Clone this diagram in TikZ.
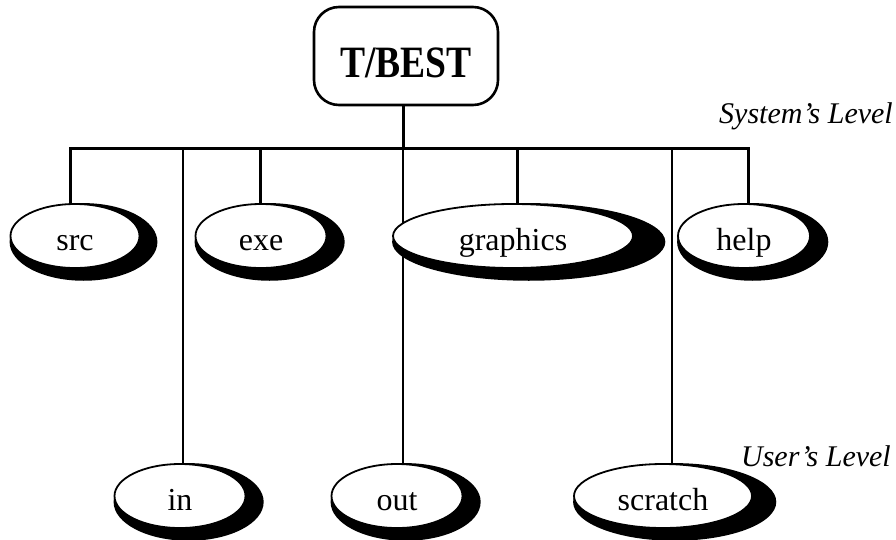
\documentclass[tikz,border=0pt]{standalone}
\usepackage{fontspec}
\setmainfont{Liberation Serif}
\usetikzlibrary{shapes.geometric,calc,backgrounds}
% solid black crescent shadow behind an elliptic node
\newcommand\ellshadow[1]{%
  \fill[black] let \p1=(#1.east), \p2=(#1.north), \p3=(#1.center),
    \n1={\x1-\x3}, \n2={\y2-\y3} in
    (\x3+0.13*\n1, \y3-0.18*\n2) ellipse [x radius=1.13*\n1, y radius=1.18*\n2];}
\begin{document}
\begin{tikzpicture}[x=1pt,y=-1pt,
  rootbox/.style={draw=black, line width=2.6pt, rounded corners=25pt,
    minimum width=184pt, minimum height=98pt, inner sep=0pt,
    text height=44pt, text depth=2pt,
    font=\bfseries\fontsize{40}{48}\selectfont},
  dirnode/.style={ellipse, draw=black, line width=1.8pt, fill=white,
    minimum width=#1, minimum height=64pt, inner sep=0pt,
    text height=34pt, text depth=6pt,
    font=\fontsize{32}{38}\selectfont},
  levellabel/.style={anchor=base east, inner sep=0pt,
    font=\itshape\fontsize{30}{36}\selectfont},
  trunkline/.style={line width=3pt},
  stubline/.style={line width=3pt},
  thinline/.style={line width=1.3pt}]
\useasboundingbox (0,0) rectangle (896,539);

% root of the tree
\node[rootbox] (root) at (406,56) {\scalebox{0.94}[1.12]{T/BEST}};

% system-level directories
\node[dirnode=129pt] (src) at (75,236) {src};
\node[dirnode=131pt] (exe) at (261,236) {exe};
\node[dirnode=240pt] (gfx) at (513,236) {graphics};
\node[dirnode=132pt] (help) at (744,236) {help};

% user-level directories
\node[dirnode=131pt] (in) at (180,496) {in};
\node[dirnode=131pt] (out) at (397,496) {out};
\node[dirnode=178pt] (scratch) at (663,496) {scratch};

% level captions
\node[levellabel] (syslbl) at (893,123) {System’s Level};
\node[levellabel] (usrlbl) at (891,466) {User’s Level};

% junctions on the horizontal bar
\coordinate (jsrc) at (70,148);
\coordinate (jin) at (183,148);
\coordinate (jexe) at (260,148);
\coordinate (jtop) at (403,148);
\coordinate (jgfx) at (517,148);
\coordinate (jscr) at (672,148);
\coordinate (jhelp) at (748,148);

\begin{scope}[on background layer]
  \draw[trunkline] (root.south -| jtop) -- (jtop);
  \draw[trunkline, line cap=rect] (jsrc) -- (jhelp);
  \draw[stubline] (jsrc) -- (jsrc |- src.north);
  \draw[stubline] (jexe) -- (jexe |- exe.north);
  \draw[stubline] (jgfx) -- (jgfx |- gfx.north);
  \draw[stubline] (jhelp) -- (jhelp |- help.north);
  \draw[thinline] (jin) -- (jin |- in.north);
  \draw[thinline] (jtop) -- (jtop |- out.north);
  \draw[thinline] (jscr) -- (jscr |- scratch.north);
  \ellshadow{src}
  \ellshadow{exe}
  \ellshadow{gfx}
  \ellshadow{help}
  \ellshadow{in}
  \ellshadow{out}
  \ellshadow{scratch}
\end{scope}
\end{tikzpicture}
\end{document}
